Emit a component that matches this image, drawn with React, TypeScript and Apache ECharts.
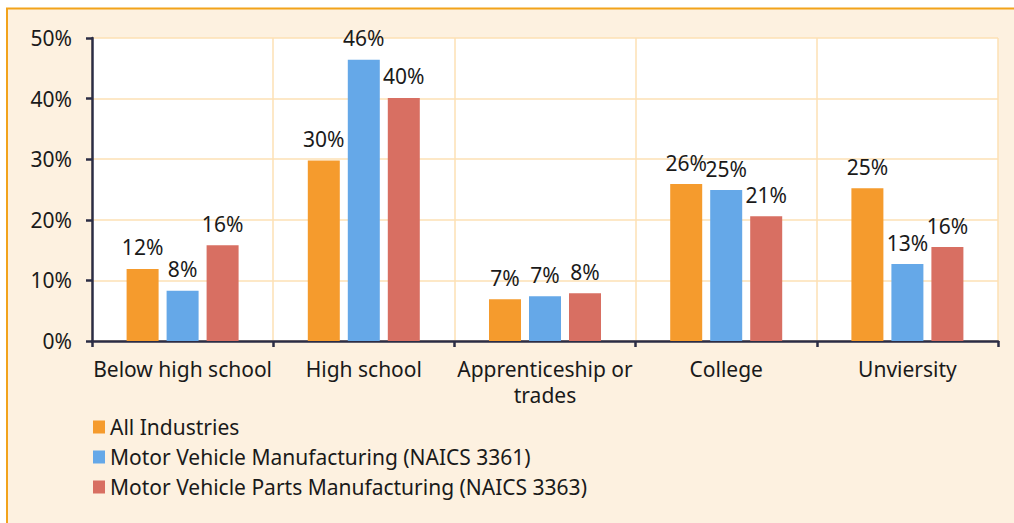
import React, { useEffect, useRef } from "react";
import * as echarts from "echarts";

const categories = ["Below high school", "High school", "Apprenticeship or\ntrades", "College", "Unviersity"];
const allIndustries = [11.9, 29.8, 6.9, 25.9, 25.2];
const motorVehicle = [8.3, 46.4, 7.4, 24.9, 12.7];
const motorParts = [15.8, 40.1, 7.9, 20.6, 15.5];
const seriesNames = [
  "All Industries",
  "Motor Vehicle Manufacturing (NAICS 3361)",
  "Motor Vehicle Parts Manufacturing (NAICS 3363)",
];
const colors = ["#F59B2D", "#65A8E8", "#D86F62"];

const FONT = "'Noto Sans', Lato, sans-serif";
const FS = 21;

export default function App() {
  const ref = useRef<HTMLDivElement>(null);
  useEffect(() => {
    if (!ref.current) return;
    const chart = echarts.init(ref.current, undefined, { renderer: "svg" });
    const mk = (name: string, data: number[], color: string) => ({
      name,
      type: "bar",
      data,
      barWidth: 32,
      barGap: "25%",
      itemStyle: { color },
      label: {
        show: true,
        position: "top",
        distance: 11,
        color: "#1a1a1a",
        fontSize: FS,
        fontFamily: FONT,
        formatter: (p: any) => Math.round(p.value) + "%",
      },
    });
    chart.setOption({
      animation: false,
      backgroundColor: "#ffffff",
      textStyle: { fontFamily: FONT },
      graphic: [
        {
          type: "rect",
          z: -10,
          silent: true,
          shape: { x: 7, y: 8.5, width: 1020, height: 530 },
          style: { fill: "#FDF1E0", stroke: "#F2A31B", lineWidth: 2 },
        },
      ],
      grid: {
        left: 92,
        right: 16,
        top: 38,
        bottom: 182,
        show: true,
        backgroundColor: "#ffffff",
        borderWidth: 0,
        containLabel: false,
      },
      legend: {
        orient: "vertical",
        left: 88,
        top: 407,
        itemWidth: 12,
        itemHeight: 13,
        itemGap: 0,
        icon: "rect",
        textStyle: { fontSize: FS, lineHeight: 30, color: "#1a1a1a", fontFamily: FONT },
        data: seriesNames,
      },
      xAxis: {
        type: "category",
        data: categories,
        axisLine: { lineStyle: { color: "#2B2D45", width: 2.5 } },
        axisTick: { show: true, length: 6, lineStyle: { color: "#2B2D45", width: 2.5 } },
        splitLine: { show: true, lineStyle: { color: "#FDE1B4", width: 1.5 } },
        axisLabel: {
          fontSize: FS,
          color: "#1a1a1a",
          margin: 15,
          lineHeight: 26,
          fontFamily: FONT,
          interval: 0,
        },
      },
      yAxis: {
        type: "value",
        min: 0,
        max: 50,
        interval: 10,
        axisLine: { show: true, lineStyle: { color: "#2B2D45", width: 2.5 } },
        axisTick: { show: true, length: 6, lineStyle: { color: "#2B2D45", width: 2.5 } },
        splitLine: { show: true, lineStyle: { color: "#FDE1B4", width: 1.5 } },
        axisLabel: {
          fontSize: FS,
          color: "#1a1a1a",
          margin: 20,
          fontFamily: FONT,
          formatter: "{value}%",
        },
      },
      series: [
        mk(seriesNames[0], allIndustries, colors[0]),
        mk(seriesNames[1], motorVehicle, colors[1]),
        mk(seriesNames[2], motorParts, colors[2]),
      ],
    });
    return () => chart.dispose();
  }, []);
  return (
    <div
      ref={ref}
      style={{ position: "fixed", left: 0, top: 0, width: 1014, height: 523 }}
    />
  );
}
